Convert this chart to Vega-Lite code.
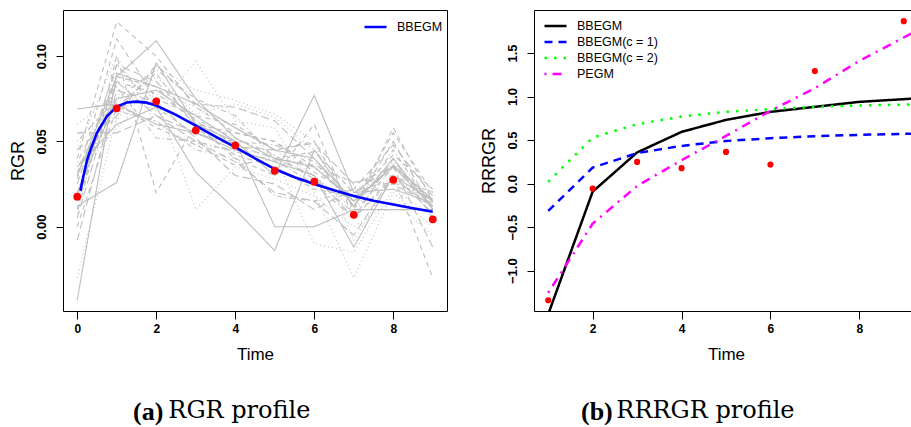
{
"$schema": "https://vega.github.io/schema/vega-lite/v6.json",
"background": "white",
"padding": {"left": 8, "top": 9, "right": 0, "bottom": 0},
"spacing": 31,
"config": {
  "view": {"stroke": "#000000", "strokeWidth": 1},
  "axis": {"grid": false, "domain": false, "tickColor": "#000000", "tickSize": 7, "labelFont": "Liberation Sans", "labelFontWeight": "bold", "labelFontSize": 13, "labelColor": "#000000", "titleFont": "Liberation Sans", "titleFontWeight": "normal", "titleFontSize": 18, "titleColor": "#000000"},
  "axisX": {"tickSize": 8, "labelPadding": 4, "titlePadding": 12, "labelFontSize": 12, "titleFontSize": 17},
  "axisY": {"labelAngle": -90, "labelPadding": 8, "titlePadding": 8},
  "title": {"font": "Liberation Serif", "fontSize": 26, "fontWeight": "bold", "color": "#000000", "orient": "bottom", "offset": 37, "anchor": "start", "dx": 124, "subtitleFont": "DejaVu Serif", "subtitleFontSize": 24, "subtitleColor": "#000000", "subtitlePadding": -26},
  "legend": {"labelFont": "Liberation Sans", "labelFontSize": 12.5, "labelColor": "#000000", "symbolType": "M-1,0H3", "symbolSize": 121, "symbolStrokeWidth": 2.5, "labelOffset": 20, "padding": 0, "rowPadding": 2, "title": null}
},
"datasets": {
  "subjects": [
{"subject":1,"time":0,"value":0.069},{"subject":1,"time":1,"value":0.072},{"subject":1,"time":2,"value":0.060},{"subject":1,"time":3,"value":0.055},{"subject":1,"time":4,"value":0.045},{"subject":1,"time":5,"value":0.038},{"subject":1,"time":6,"value":0.030},{"subject":1,"time":7,"value":-0.012},{"subject":1,"time":8,"value":0.030},{"subject":1,"time":9,"value":0.015},
{"subject":2,"time":0,"value":0.040},{"subject":2,"time":1,"value":0.120},{"subject":2,"time":2,"value":0.100},{"subject":2,"time":3,"value":0.070},{"subject":2,"time":4,"value":0.055},{"subject":2,"time":5,"value":0.050},{"subject":2,"time":6,"value":0.035},{"subject":2,"time":7,"value":0.015},{"subject":2,"time":8,"value":0.055},{"subject":2,"time":9,"value":0.020},
{"subject":3,"time":0,"value":0.060},{"subject":3,"time":1,"value":0.078},{"subject":3,"time":2,"value":0.068},{"subject":3,"time":3,"value":0.097},{"subject":3,"time":4,"value":0.062},{"subject":3,"time":5,"value":0.058},{"subject":3,"time":6,"value":0.020},{"subject":3,"time":7,"value":-0.030},{"subject":3,"time":8,"value":0.020},{"subject":3,"time":9,"value":0.000},
{"subject":4,"time":0,"value":0.015},{"subject":4,"time":1,"value":0.085},{"subject":4,"time":2,"value":0.078},{"subject":4,"time":3,"value":0.063},{"subject":4,"time":4,"value":0.052},{"subject":4,"time":5,"value":0.042},{"subject":4,"time":6,"value":0.028},{"subject":4,"time":7,"value":0.008},{"subject":4,"time":8,"value":0.035},{"subject":4,"time":9,"value":0.015},
{"subject":5,"time":0,"value":0.025},{"subject":5,"time":1,"value":0.095},{"subject":5,"time":2,"value":0.085},{"subject":5,"time":3,"value":0.062},{"subject":5,"time":4,"value":0.048},{"subject":5,"time":5,"value":0.040},{"subject":5,"time":6,"value":0.030},{"subject":5,"time":7,"value":0.005},{"subject":5,"time":8,"value":0.040},{"subject":5,"time":9,"value":0.005},
{"subject":6,"time":0,"value":-0.043},{"subject":6,"time":1,"value":0.090},{"subject":6,"time":2,"value":0.082},{"subject":6,"time":3,"value":0.072},{"subject":6,"time":4,"value":0.058},{"subject":6,"time":5,"value":0.045},{"subject":6,"time":6,"value":0.040},{"subject":6,"time":7,"value":0.015},{"subject":6,"time":8,"value":0.035},{"subject":6,"time":9,"value":0.012},
{"subject":7,"time":0,"value":0.010},{"subject":7,"time":1,"value":0.100},{"subject":7,"time":2,"value":0.020},{"subject":7,"time":3,"value":0.060},{"subject":7,"time":4,"value":0.040},{"subject":7,"time":5,"value":0.030},{"subject":7,"time":6,"value":0.060},{"subject":7,"time":7,"value":0.005},{"subject":7,"time":8,"value":0.030},{"subject":7,"time":9,"value":-0.030},
{"subject":8,"time":0,"value":0.020},{"subject":8,"time":1,"value":0.090},{"subject":8,"time":2,"value":0.075},{"subject":8,"time":3,"value":0.010},{"subject":8,"time":4,"value":0.035},{"subject":8,"time":5,"value":0.028},{"subject":8,"time":6,"value":0.018},{"subject":8,"time":7,"value":0.000},{"subject":8,"time":8,"value":0.015},{"subject":8,"time":9,"value":-0.005},
{"subject":9,"time":0,"value":0.050},{"subject":9,"time":1,"value":0.075},{"subject":9,"time":2,"value":0.092},{"subject":9,"time":3,"value":0.075},{"subject":9,"time":4,"value":0.065},{"subject":9,"time":5,"value":0.040},{"subject":9,"time":6,"value":0.036},{"subject":9,"time":7,"value":0.026},{"subject":9,"time":8,"value":0.030},{"subject":9,"time":9,"value":0.020},
{"subject":10,"time":0,"value":0.045},{"subject":10,"time":1,"value":0.065},{"subject":10,"time":2,"value":0.095},{"subject":10,"time":3,"value":0.072},{"subject":10,"time":4,"value":0.070},{"subject":10,"time":5,"value":0.062},{"subject":10,"time":6,"value":0.040},{"subject":10,"time":7,"value":0.012},{"subject":10,"time":8,"value":0.050},{"subject":10,"time":9,"value":0.010},
{"subject":11,"time":0,"value":0.012},{"subject":11,"time":1,"value":0.026},{"subject":11,"time":2,"value":0.096},{"subject":11,"time":3,"value":0.060},{"subject":11,"time":4,"value":0.050},{"subject":11,"time":5,"value":0.030},{"subject":11,"time":6,"value":0.077},{"subject":11,"time":7,"value":0.020},{"subject":11,"time":8,"value":0.022},{"subject":11,"time":9,"value":0.014},
{"subject":12,"time":0,"value":0.000},{"subject":12,"time":1,"value":0.070},{"subject":12,"time":2,"value":0.090},{"subject":12,"time":3,"value":0.058},{"subject":12,"time":4,"value":0.042},{"subject":12,"time":5,"value":0.035},{"subject":12,"time":6,"value":0.022},{"subject":12,"time":7,"value":0.018},{"subject":12,"time":8,"value":0.025},{"subject":12,"time":9,"value":0.012},
{"subject":13,"time":0,"value":-0.030},{"subject":13,"time":1,"value":0.065},{"subject":13,"time":2,"value":0.088},{"subject":13,"time":3,"value":0.066},{"subject":13,"time":4,"value":0.072},{"subject":13,"time":5,"value":0.064},{"subject":13,"time":6,"value":0.045},{"subject":13,"time":7,"value":0.020},{"subject":13,"time":8,"value":0.028},{"subject":13,"time":9,"value":0.012},
{"subject":14,"time":0,"value":0.008},{"subject":14,"time":1,"value":0.095},{"subject":14,"time":2,"value":0.070},{"subject":14,"time":3,"value":0.054},{"subject":14,"time":4,"value":0.050},{"subject":14,"time":5,"value":0.048},{"subject":14,"time":6,"value":0.038},{"subject":14,"time":7,"value":0.012},{"subject":14,"time":8,"value":0.045},{"subject":14,"time":9,"value":0.010},
{"subject":15,"time":0,"value":0.055},{"subject":15,"time":1,"value":0.055},{"subject":15,"time":2,"value":0.065},{"subject":15,"time":3,"value":0.050},{"subject":15,"time":4,"value":0.038},{"subject":15,"time":5,"value":0.020},{"subject":15,"time":6,"value":0.015},{"subject":15,"time":7,"value":-0.005},{"subject":15,"time":8,"value":0.030},{"subject":15,"time":9,"value":0.008},
{"subject":16,"time":0,"value":0.030},{"subject":16,"time":1,"value":0.088},{"subject":16,"time":2,"value":0.109},{"subject":16,"time":3,"value":0.075},{"subject":16,"time":4,"value":0.052},{"subject":16,"time":5,"value":0.040},{"subject":16,"time":6,"value":0.035},{"subject":16,"time":7,"value":0.015},{"subject":16,"time":8,"value":0.036},{"subject":16,"time":9,"value":0.016},
{"subject":17,"time":0,"value":0.018},{"subject":17,"time":1,"value":0.088},{"subject":17,"time":2,"value":0.082},{"subject":17,"time":3,"value":0.060},{"subject":17,"time":4,"value":0.055},{"subject":17,"time":5,"value":0.050},{"subject":17,"time":6,"value":0.032},{"subject":17,"time":7,"value":0.018},{"subject":17,"time":8,"value":0.042},{"subject":17,"time":9,"value":0.022},
{"subject":18,"time":0,"value":0.045},{"subject":18,"time":1,"value":0.100},{"subject":18,"time":2,"value":0.060},{"subject":18,"time":3,"value":0.048},{"subject":18,"time":4,"value":0.045},{"subject":18,"time":5,"value":0.042},{"subject":18,"time":6,"value":-0.010},{"subject":18,"time":7,"value":-0.015},{"subject":18,"time":8,"value":0.022},{"subject":18,"time":9,"value":0.006},
{"subject":19,"time":0,"value":0.035},{"subject":19,"time":1,"value":0.068},{"subject":19,"time":2,"value":0.062},{"subject":19,"time":3,"value":0.045},{"subject":19,"time":4,"value":0.040},{"subject":19,"time":5,"value":0.018},{"subject":19,"time":6,"value":0.015},{"subject":19,"time":7,"value":0.022},{"subject":19,"time":8,"value":0.026},{"subject":19,"time":9,"value":0.016},
{"subject":20,"time":0,"value":-0.008},{"subject":20,"time":1,"value":0.080},{"subject":20,"time":2,"value":0.073},{"subject":20,"time":3,"value":0.052},{"subject":20,"time":4,"value":0.030},{"subject":20,"time":5,"value":0.025},{"subject":20,"time":6,"value":0.010},{"subject":20,"time":7,"value":0.022},{"subject":20,"time":8,"value":0.048},{"subject":20,"time":9,"value":0.018},
{"subject":21,"time":0,"value":0.035},{"subject":21,"time":1,"value":0.060},{"subject":21,"time":2,"value":0.070},{"subject":21,"time":3,"value":0.032},{"subject":21,"time":4,"value":0.010},{"subject":21,"time":5,"value":-0.014},{"subject":21,"time":6,"value":0.045},{"subject":21,"time":7,"value":0.012},{"subject":21,"time":8,"value":0.040},{"subject":21,"time":9,"value":0.010},
{"subject":22,"time":0,"value":0.028},{"subject":22,"time":1,"value":0.110},{"subject":22,"time":2,"value":0.075},{"subject":22,"time":3,"value":0.065},{"subject":22,"time":4,"value":0.060},{"subject":22,"time":5,"value":0.045},{"subject":22,"time":6,"value":0.050},{"subject":22,"time":7,"value":0.010},{"subject":22,"time":8,"value":0.058},{"subject":22,"time":9,"value":0.015},
{"subject":23,"time":0,"value":0.030},{"subject":23,"time":1,"value":0.058},{"subject":23,"time":2,"value":0.080},{"subject":23,"time":3,"value":0.070},{"subject":23,"time":4,"value":0.058},{"subject":23,"time":5,"value":0.045},{"subject":23,"time":6,"value":0.030},{"subject":23,"time":7,"value":0.010},{"subject":23,"time":8,"value":0.038},{"subject":23,"time":9,"value":0.014},
{"subject":24,"time":0,"value":0.038},{"subject":24,"time":1,"value":0.082},{"subject":24,"time":2,"value":0.052},{"subject":24,"time":3,"value":0.050},{"subject":24,"time":4,"value":0.044},{"subject":24,"time":5,"value":0.039},{"subject":24,"time":6,"value":0.025},{"subject":24,"time":7,"value":0.005},{"subject":24,"time":8,"value":0.028},{"subject":24,"time":9,"value":0.012},
{"subject":25,"time":0,"value":0.005},{"subject":25,"time":1,"value":0.085},{"subject":25,"time":2,"value":0.065},{"subject":25,"time":3,"value":0.055},{"subject":25,"time":4,"value":0.047},{"subject":25,"time":5,"value":0.045},{"subject":25,"time":6,"value":0.049},{"subject":25,"time":7,"value":0.025},{"subject":25,"time":8,"value":0.035},{"subject":25,"time":9,"value":-0.012},
{"subject":26,"time":0,"value":0.020},{"subject":26,"time":1,"value":0.075},{"subject":26,"time":2,"value":0.080},{"subject":26,"time":3,"value":0.065},{"subject":26,"time":4,"value":0.050},{"subject":26,"time":5,"value":0.000},{"subject":26,"time":6,"value":0.000},{"subject":26,"time":7,"value":0.010},{"subject":26,"time":8,"value":0.010},{"subject":26,"time":9,"value":0.010},
{"subject":27,"time":0,"value":0.032},{"subject":27,"time":1,"value":0.072},{"subject":27,"time":2,"value":0.058},{"subject":27,"time":3,"value":0.048},{"subject":27,"time":4,"value":0.036},{"subject":27,"time":5,"value":0.040},{"subject":27,"time":6,"value":0.044},{"subject":27,"time":7,"value":0.020},{"subject":27,"time":8,"value":0.036},{"subject":27,"time":9,"value":0.015},
{"subject":28,"time":0,"value":0.055},{"subject":28,"time":1,"value":0.062},{"subject":28,"time":2,"value":0.094},{"subject":28,"time":3,"value":0.080},{"subject":28,"time":4,"value":0.074},{"subject":28,"time":5,"value":0.066},{"subject":28,"time":6,"value":0.050},{"subject":28,"time":7,"value":-0.008},{"subject":28,"time":8,"value":0.030},{"subject":28,"time":9,"value":0.012}
  ],
  "rgr_fit": [
{"model":"BBEGM","time":0.08,"value":0.021},{"model":"BBEGM","time":0.15,"value":0.029},{"model":"BBEGM","time":0.25,"value":0.039},{"model":"BBEGM","time":0.35,"value":0.046},{"model":"BBEGM","time":0.5,"value":0.055},{"model":"BBEGM","time":0.75,"value":0.0647},{"model":"BBEGM","time":1.0,"value":0.0703},{"model":"BBEGM","time":1.25,"value":0.0728},{"model":"BBEGM","time":1.5,"value":0.0733},{"model":"BBEGM","time":1.75,"value":0.0727},{"model":"BBEGM","time":2.0,"value":0.071},{"model":"BBEGM","time":2.5,"value":0.0655},{"model":"BBEGM","time":3.0,"value":0.0592},{"model":"BBEGM","time":3.5,"value":0.0528},{"model":"BBEGM","time":4.0,"value":0.0467},{"model":"BBEGM","time":4.5,"value":0.040},{"model":"BBEGM","time":5.0,"value":0.0338},{"model":"BBEGM","time":5.5,"value":0.029},{"model":"BBEGM","time":6.0,"value":0.025},{"model":"BBEGM","time":6.5,"value":0.0213},{"model":"BBEGM","time":7.0,"value":0.018},{"model":"BBEGM","time":7.5,"value":0.0152},{"model":"BBEGM","time":8.0,"value":0.013},{"model":"BBEGM","time":8.5,"value":0.0108},{"model":"BBEGM","time":9.0,"value":0.0088}
  ],
  "rgr_mean": [
{"time":0,"value":0.0176},{"time":1,"value":0.0694},{"time":2,"value":0.0735},{"time":3,"value":0.0565},{"time":4,"value":0.0477},{"time":5,"value":0.0328},{"time":6,"value":0.0264},{"time":7,"value":0.007},{"time":8,"value":0.0275},{"time":9,"value":0.0043}
  ],
  "rrrgr_fit": [
{"model":"BBEGM","time":1,"value":-1.5},{"model":"BBEGM","time":2,"value":-0.092},{"model":"BBEGM","time":3,"value":0.358},{"model":"BBEGM","time":4,"value":0.594},{"model":"BBEGM","time":5,"value":0.732},{"model":"BBEGM","time":6,"value":0.824},{"model":"BBEGM","time":7,"value":0.882},{"model":"BBEGM","time":8,"value":0.939},{"model":"BBEGM","time":9,"value":0.97},{"model":"BBEGM","time":10,"value":1.0},
{"model":"BBEGM(c = 1)","time":1,"value":-0.314},{"model":"BBEGM(c = 1)","time":2,"value":0.184},{"model":"BBEGM(c = 1)","time":3,"value":0.35},{"model":"BBEGM(c = 1)","time":4,"value":0.433},{"model":"BBEGM(c = 1)","time":5,"value":0.49},{"model":"BBEGM(c = 1)","time":6,"value":0.521},{"model":"BBEGM(c = 1)","time":7,"value":0.544},{"model":"BBEGM(c = 1)","time":8,"value":0.56},{"model":"BBEGM(c = 1)","time":9,"value":0.571},{"model":"BBEGM(c = 1)","time":10,"value":0.58},
{"model":"BBEGM(c = 2)","time":1,"value":0.02},{"model":"BBEGM(c = 2)","time":2,"value":0.529},{"model":"BBEGM(c = 2)","time":3,"value":0.682},{"model":"BBEGM(c = 2)","time":4,"value":0.77},{"model":"BBEGM(c = 2)","time":5,"value":0.824},{"model":"BBEGM(c = 2)","time":6,"value":0.855},{"model":"BBEGM(c = 2)","time":7,"value":0.882},{"model":"BBEGM(c = 2)","time":8,"value":0.897},{"model":"BBEGM(c = 2)","time":9,"value":0.908},{"model":"BBEGM(c = 2)","time":10,"value":0.918},
{"model":"PEGM","time":1,"value":-1.253},{"model":"PEGM","time":2,"value":-0.46},{"model":"PEGM","time":3,"value":-0.026},{"model":"PEGM","time":4,"value":0.269},{"model":"PEGM","time":5,"value":0.548},{"model":"PEGM","time":6,"value":0.836},{"model":"PEGM","time":7,"value":1.096},{"model":"PEGM","time":8,"value":1.41},{"model":"PEGM","time":9,"value":1.678},{"model":"PEGM","time":10,"value":1.95}
  ],
  "rrrgr_obs": [
{"time":1,"value":-1.34},{"time":2,"value":-0.057},{"time":3,"value":0.249},{"time":4,"value":0.177},{"time":5,"value":0.364},{"time":6,"value":0.219},{"time":7,"value":1.292},{"time":9,"value":1.866}
  ]
},
"hconcat": [
  {
    "width": 384, "height": 301,
    "title": {"text": "(a)", "subtitle": "\u200b\u00a0\u00a0\u00a0\u00a0\u2009RGR profile"},
    "encoding": {
      "x": {"field": "time", "type": "quantitative", "title": "Time", "scale": {"domain": [-0.36, 9.36], "nice": false, "zero": false}, "axis": {"values": [0, 2, 4, 6, 8], "format": "d"}},
      "y": {"field": "value", "type": "quantitative", "title": "RGR", "scale": {"domain": [-0.0494, 0.127], "nice": false, "zero": false}, "axis": {"values": [0, 0.05, 0.1], "format": ".2f"}}
    },
    "layer": [
      {
        "data": {"name": "subjects"},
        "mark": {"type": "line", "color": "#BEBEBE", "strokeWidth": 1.1, "clip": true},
        "encoding": {
          "strokeDash": {"field": "subject", "type": "nominal", "legend": null,
            "scale": {"domain": [1,2,3,4,5,6,7,8,9,10,11,12,13,14,15,16,17,18,19,20,21,22,23,24,25,26,27,28],
              "range": [[1,0],[5,4],[1,3],[1,3,5,3],[8,4],[1,0],[5,4],[1,3],[1,3,5,3],[8,4],[1,0],[5,4],[1,3],[1,3,5,3],[8,4],[1,0],[5,4],[1,3],[1,3,5,3],[8,4],[1,0],[5,4],[1,3],[1,3,5,3],[8,4],[1,0],[5,4],[1,3]]}}
        }
      },
      {
        "data": {"name": "rgr_fit"},
        "mark": {"type": "line", "strokeWidth": 2.6, "clip": true},
        "encoding": {
          "color": {"field": "model", "type": "nominal", "scale": {"domain": ["BBEGM"], "range": ["#0000FF"]}, "legend": {"orient": "none", "legendX": 300, "legendY": 10}}
        }
      },
      {
        "data": {"name": "rgr_mean"},
        "mark": {"type": "circle", "color": "#FF0000", "opacity": 1, "size": 60}
      }
    ]
  },
  {
    "width": 384, "height": 301,
    "title": {"text": "(b)", "subtitle": "\u200b\u00a0\u00a0\u00a0\u00a0\u2009RRRGR profile", "dx": 101},
    "encoding": {
      "x": {"field": "time", "type": "quantitative", "title": "Time", "scale": {"domain": [0.68, 9.32], "nice": false, "zero": false}, "axis": {"values": [2, 4, 6, 8], "format": "d"}},
      "y": {"field": "value", "type": "quantitative", "title": "RRRGR", "scale": {"domain": [-1.463, 1.994], "nice": false, "zero": false}, "axis": {"values": [-1, -0.5, 0, 0.5, 1, 1.5], "format": ".1f"}}
    },
    "layer": [
      {
        "data": {"name": "rrrgr_fit"},
        "mark": {"type": "line", "strokeWidth": 2.5, "clip": true},
        "encoding": {
          "color": {"field": "model", "type": "nominal", "scale": {"domain": ["BBEGM", "BBEGM(c = 1)", "BBEGM(c = 2)", "PEGM"], "range": ["#000000", "#0000FF", "#00FF00", "#FF00FF"]}, "legend": {"orient": "top-left", "offset": 9}},
          "strokeDash": {"field": "model", "type": "nominal", "scale": {"domain": ["BBEGM", "BBEGM(c = 1)", "BBEGM(c = 2)", "PEGM"], "range": [[1,0],[8,6],[2.5,7],[2,6,9,6]]}, "legend": {"orient": "top-left", "offset": 9}}
        }
      },
      {
        "data": {"name": "rrrgr_obs"},
        "mark": {"type": "circle", "color": "#FF0000", "opacity": 1, "size": 38, "clip": true}
      }
    ]
  }
],
"resolve": {"scale": {"color": "independent", "strokeDash": "independent", "x": "independent", "y": "independent"}}
}
